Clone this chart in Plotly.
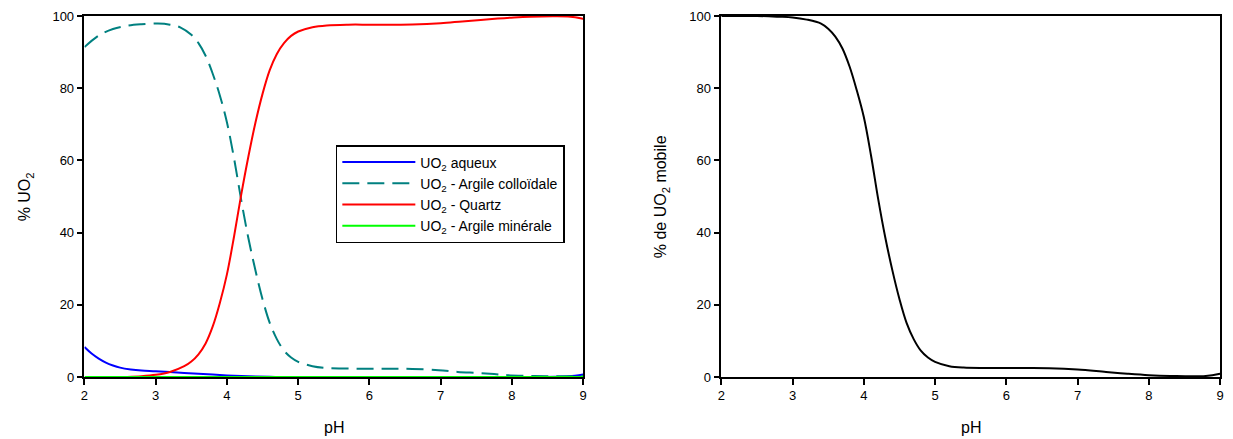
import plotly.graph_objects as go

# ---------------- data ----------------
ph_aq = [2.0, 2.1, 2.2, 2.3, 2.4, 2.5, 2.65, 2.8, 3.0, 3.3, 3.6, 4.0, 4.3, 4.6, 4.8, 5.5, 6.5, 7.5, 8.3, 8.6, 8.8, 9.0]
aq = [8.3, 6.5, 5.1, 4.0, 3.2, 2.6, 2.1, 1.8, 1.6, 1.25, 0.9, 0.45, 0.2, 0.05, 0.0, 0.0, 0.0, 0.0, 0.0, 0.05, 0.2, 0.7]

ph_col = [2.0, 2.2, 2.4, 2.6, 2.8, 3.03, 3.2, 3.35, 3.5, 3.6, 3.7, 3.8, 3.9, 4.0, 4.1, 4.2, 4.3,
          4.4, 4.5, 4.6, 4.7, 4.8, 4.9, 5.0, 5.2, 5.4, 5.7, 6.0, 6.3, 6.6, 6.97, 7.24, 7.52, 7.75,
          7.94, 8.22, 8.5, 8.8, 9.0]
col = [91.4, 94.6, 96.4, 97.3, 97.7, 97.9, 97.6, 96.8, 94.8, 92.5, 89.0, 84.0, 78.0, 70.5, 60.5,
       49.0, 38.5, 29.5, 21.5, 15.0, 10.5, 7.3, 5.4, 4.2, 3.0, 2.5, 2.35, 2.3, 2.3, 2.25, 1.9, 1.4,
       1.1, 0.8, 0.5, 0.3, 0.2, 0.2, 0.3]

ph_qz = [2.6, 2.8, 3.0, 3.2, 3.4, 3.5, 3.6, 3.7, 3.8, 3.9, 4.0, 4.1, 4.2, 4.3, 4.4, 4.5, 4.6,
         4.7, 4.8, 4.9, 5.0, 5.2, 5.4, 5.7, 6.0, 6.3, 6.6, 7.0, 7.3, 7.56, 7.8, 8.03, 8.26, 8.6,
         8.82, 8.96, 9.0]
qz = [0.0, 0.2, 0.6, 1.4, 3.0, 4.3, 6.3, 9.3, 14.0, 20.5, 28.5, 39.0, 50.5, 61.0, 70.5, 78.5,
      85.0, 89.5, 92.5, 94.5, 95.7, 96.9, 97.4, 97.6, 97.6, 97.6, 97.65, 98.0, 98.5, 98.9, 99.3,
      99.6, 99.8, 99.9, 99.8, 99.4, 99.2]

ph_min = [2, 3, 4, 5, 6, 7, 8, 9]
mineral = [0, 0, 0, 0, 0, 0, 0, 0]

ph_mob = [2.0, 2.5, 2.8, 3.0, 3.2, 3.4, 3.5, 3.6, 3.7, 3.8, 3.9, 4.0, 4.1, 4.2, 4.3, 4.4, 4.5,
          4.6, 4.7, 4.8, 4.9, 5.0, 5.2, 5.4, 5.7, 6.0, 6.3, 6.6, 7.0, 7.4, 7.7, 8.0, 8.3, 8.8, 9.0]
mob = [100, 100, 99.8, 99.6, 99.0, 97.9, 96.5, 94.3, 91.0, 86.0, 79.5, 72.0, 61.5, 49.5, 38.8,
       29.6, 21.6, 15.0, 10.5, 7.3, 5.4, 4.2, 3.0, 2.6, 2.5, 2.5, 2.5, 2.45, 2.1, 1.4, 0.9, 0.5,
       0.3, 0.3, 0.9]

x_ticks = [2, 3, 4, 5, 6, 7, 8, 9]
y_ticks = [0, 20, 40, 60, 80, 100]

names = ["UO<sub>2</sub> aqueux", "UO<sub>2</sub> - Argile colloïdale",
         "UO<sub>2</sub> - Quartz", "UO<sub>2</sub> - Argile minérale"]

# ---------------- figure ----------------
W, H = 1233, 439
FONT = "Liberation Sans, Arial, sans-serif"
fig = go.Figure()

def line(x, y, color, name, dash=None, xa="x", ya="y", show=True):
    fig.add_trace(go.Scatter(x=x, y=y, mode="lines", name=name, xaxis=xa, yaxis=ya,
                             showlegend=show,
                             line=dict(color=color, width=2, dash=dash, shape="spline", smoothing=1.0)))

line(ph_aq, aq, "#0000FF", names[0])
line(ph_col, col, "#008080", names[1], dash="17px,8px")
line(ph_qz, qz, "#FF0000", names[2])
line(ph_min, mineral, "#00FF00", names[3])
line(ph_mob, mob, "#000000", "mobile", xa="x2", ya="y2", show=False)

axis_common = dict(showgrid=False, zeroline=False, showline=True, linecolor="black",
                   linewidth=1.5, mirror=True, ticks="outside", ticklen=6, tickwidth=1.5,
                   tickcolor="black", tickfont=dict(family=FONT, size=13, color="black"),
                   layer="below traces")

fig.update_layout(
    width=W, height=H,
    margin=dict(l=0, r=0, t=16, b=62),
    paper_bgcolor="white", plot_bgcolor="white",
    font=dict(family=FONT, color="black"),
    xaxis=dict(axis_common, range=[2, 9], tickvals=x_ticks, domain=[81 / W, 583 / W], anchor="y"),
    yaxis=dict(axis_common, range=[0, 100], tickvals=y_ticks, anchor="x"),
    xaxis2=dict(axis_common, range=[2, 9], tickvals=x_ticks, domain=[722 / W, 1224 / W], anchor="y2"),
    yaxis2=dict(axis_common, range=[0, 100], tickvals=y_ticks, anchor="x2"),
    legend=dict(x=334 / W, y=1 - (145 - 16) / 361, xanchor="left", yanchor="top",
                bordercolor="black", borderwidth=1.5, bgcolor="white",
                font=dict(family=FONT, size=14, color="black"), itemwidth=73),
    showlegend=True,
)

title_font = dict(family=FONT, size=16, color="black")
fig.add_annotation(text="pH", xref="paper", yref="paper", x=(81 + 583) / 2 / W, y=-50 / 361,
                   xanchor="center", yanchor="middle", showarrow=False, font=title_font)
fig.add_annotation(text="pH", xref="paper", yref="paper", x=(722 + 1224) / 2 / W, y=-50 / 361,
                   xanchor="center", yanchor="middle", showarrow=False, font=title_font)
fig.add_annotation(text="% UO<sub>2</sub>", xref="paper", yref="paper", x=22 / W, y=0.5,
                   xanchor="center", yanchor="middle", showarrow=False, textangle=-90, font=title_font)
fig.add_annotation(text="% de UO<sub>2</sub> mobile", xref="paper", yref="paper", x=662 / W, y=0.5,
                   xanchor="center", yanchor="middle", showarrow=False, textangle=-90, font=title_font)

fig.write_html("out.html", config={"displayModeBar": False},
               post_script="document.body.style.margin='0px';document.body.style.overflow='hidden';")
